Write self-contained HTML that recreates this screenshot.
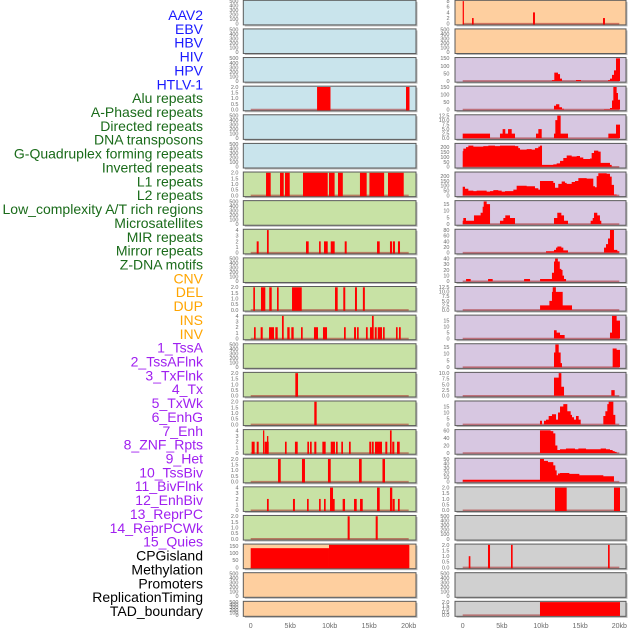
<!DOCTYPE html>
<html><head><meta charset="utf-8">
<style>
html,body{margin:0;padding:0;background:#fff;}
svg{display:block;font-family:"Liberation Sans",sans-serif;}
</style></head>
<body>
<svg id="chart" width="630" height="630" viewBox="0 0 630 630" xmlns="http://www.w3.org/2000/svg">
<g id="labels"></g>
<g id="panels"></g>
</svg>
<script>
const labelNames=["AAV2","EBV","HBV","HIV","HPV","HTLV-1","Alu repeats","A-Phased repeats","Directed repeats","DNA transposons","G-Quadruplex forming repeats","Inverted repeats","L1 repeats","L2 repeats","Low_complexity A/T rich regions","Microsatellites","MIR repeats","Mirror repeats","Z-DNA motifs","CNV","DEL","DUP","INS","INV","1_TssA","2_TssAFlnk","3_TxFlnk","4_Tx","5_TxWk","6_EnhG","7_Enh","8_ZNF_Rpts","9_Het","10_TssBiv","11_BivFlnk","12_EnhBiv","13_ReprPC","14_ReprPCWk","15_Quies","CPGisland","Methylation","Promoters","ReplicationTiming","TAD_boundary"];
const labelGroups=["v","v","v","v","v","v","r","r","r","r","r","r","r","r","r","r","r","r","r","s","s","s","s","s","c","c","c","c","c","c","c","c","c","c","c","c","c","c","c","o","o","o","o","o"];
const xTickVals=[0,5,10,15,20];
const xTickLabels=["0","5kb","10kb","15kb","20kb"];

// Left column data (bars: start kb, end kb, value)
const leftBg=["b","b","b","b","b","b","g","g","g","g","g","g","g","g","g","g","g","g","g","o","o","o"];
const leftMax=[500,500,500,2,500,500,2,500,4,500,2,4,500,2,2,4,2,4,2,158,500,500];
const L04_s=[8.4,19.66], L04_e=[10.1,20.1], L04_v=[2,2];
const L07_s=[1.94,3.71,4.34,6.62,9.91,11.05,13.83,15.03,17.38];
const L07_e=[2.53,4.18,4.94,9.75,10.62,11.66,14.68,16.89,19.37];
const L07_v=[2,2,2,2,2,2,2,2,2];
const L09_s=[0.76,2.06,7.0,8.65,9.28,10.13,11.9,15.99,17.63,18.0,18.64];
const L09_e=[1.01,2.28,7.34,8.86,9.75,10.63,12.15,16.33,17.89,18.26,18.9];
const L09_v=[2,4,2,2,2,2,2,2,2,2,2];
const L11_s=[0.33,1.3,2.35,3.33,5.23,10.67,11.72,13.2,14.2];
const L11_e=[0.54,1.85,2.66,3.54,6.46,11.01,11.97,13.45,14.45];
const L11_v=[2,2,2,2,2,2,2,2,2];
const L12_s=[0.42,1.26,2.32,3.12,3.96,4.63,5.14,6.37,8.01,9.15,11.81,13.08,13.46,14.59,15.1,15.35,15.7,16.08,16.75,18.39,18.77];
const L12_e=[0.63,1.52,2.95,3.42,4.18,4.93,5.44,6.58,8.52,9.66,12.03,13.33,13.67,14.81,15.44,15.57,15.95,16.62,16.96,18.6,18.99];
const L12_v=[2,2,2,2,4,2,2,2,2,2,2,2,2,2,2,4,2,2,2,2,2];
const L14_s=[5.65], L14_e=[5.99], L14_v=[2];
const L15_s=[8.05], L15_e=[8.35], L15_v=[2];
const L16_s=[0.12,0.76,1.56,1.77,2.06,4.34,5.6,7.17,7.51,8.05,9.07,10.13,10.8,11.47,12.44,15.01,15.32,15.73,17.04,17.63,17.92,18.52];
const L16_e=[0.5,1.01,1.72,2.28,2.23,4.55,5.95,7.38,7.72,8.31,9.49,10.67,11.01,11.68,12.66,15.23,15.57,16.62,17.29,17.84,18.18,18.86];
const L16_v=[2,2,4,2,3,2,2,2,2,2,2,2,2,2,2,2,2,2,2,4,2,2];
const L17_s=[3.46,6.49,9.78,13.71,16.68], L17_e=[3.8,6.87,10.13,14.05,17.0], L17_v=[2,2,2,2,2];
const L18_s=[2.06,5.35,7.13,8.65,9.28,10.04,10.38,11.64,13.08,13.84,15.99,17.63,17.97,18.64];
const L18_e=[2.28,5.6,7.34,8.86,9.49,10.42,10.63,11.94,13.42,14.18,16.33,17.92,18.23,18.86];
const L18_v=[2,2,2,2,2,4,2,2,2,2,4,4,2,2];
const L19_s=[12.27,15.82], L19_e=[12.53,16.08], L19_v=[2,2];
const L20_s=[0,9.91], L20_e=[9.91,20.08], L20_v=[135,160];
const leftBars={3:[L04_s,L04_e,L04_v],6:[L07_s,L07_e,L07_v],8:[L09_s,L09_e,L09_v],10:[L11_s,L11_e,L11_v],11:[L12_s,L12_e,L12_v],13:[L14_s,L14_e,L14_v],14:[L15_s,L15_e,L15_v],15:[L16_s,L16_e,L16_v],16:[L17_s,L17_e,L17_v],17:[L18_s,L18_e,L18_v],18:[L19_s,L19_e,L19_v],19:[L20_s,L20_e,L20_v]};

// Right column data
const rightBg=["o","o","p","p","p","p","p","p","p","p","p","p","p","p","p","p","p","y","y","y","y","y"];
const rightMax=[8,500,150,150,12.5,230,235,17,80,40,12.5,19,17,10,19,60,50,2,500,2,500,2];
const R01_s=[0,1.19,8.98,17.92], R01_e=[0.13,1.4,9.23,18.17], R01_v=[8,2,4,2];
const R18_s=[11.79,19.32], R18_e=[13.28,20.09], R18_v=[2,2];
const R20_s=[0.77,3.23,6.17,18.56], R20_e=[0.98,3.49,6.38,18.77], R20_v=[1,2,2,2];
const R22_s=[9.87], R22_e=[20.09], R22_v=[2];
const R03_x=[11.4,11.7,12.17,12.43,12.68,14.47,15.11,18.56,18.81,19.07,19.32,19.58,20.09];
const R03_y=[5,55,45,15,0,6,0,5,15,40,70,150,0];
const R04_x=[11.66,11.92,12.34,12.68,12.94,18.05,18.81,19.07,19.24,19.66,19.83,20.09];
const R04_y=[25,35,15,5,0,3,10,60,150,110,65,0];
const R05_x=[0,3.49,4.76,5.1,5.44,5.79,6.26,6.68,9.36,9.66,10.09,11.66,11.83,12.08,12.51,13.45,18.6,19.58,20.09];
const R05_y=[2.5,0,2.5,5,2.5,5,2.5,0,2.5,5,0,2.5,10,12.5,2.5,0,2.5,7.5,0];
const R06_x=[0,0.08,0.42,0.72,1.36,2.63,3.27,4.12,4.76,6.68,7.1,7.32,8.17,8.81,9.23,9.66,9.87,10.13,11.57,12.0,12.43,12.85,13.28,13.92,14.56,14.98,15.4,16.26,16.47,16.77,17.32,17.62,18.81,19.03];
const R06_y=[160,185,200,215,205,210,215,210,215,210,190,175,180,175,190,205,215,20,25,35,60,90,115,105,110,95,80,85,140,165,155,40,20,0];
const R07_x=[0,0.29,0.72,1.36,1.78,2.63,3.06,3.49,3.91,4.55,4.98,5.4,6.47,6.89,8.17,9.23,9.66,9.87,11.57,11.79,12.21,12.64,13.06,13.28,13.92,14.34,14.77,15.83,16.68,16.9,17.11,17.32,18.39,18.81,19.03,19.32,19.66];
const R07_y=[90,70,50,45,50,50,40,45,55,50,40,45,60,100,95,75,60,150,130,80,120,145,130,120,140,150,180,175,95,85,200,230,225,195,110,10,0];
const R08_x=[0,0.08,0.42,1.44,2.29,2.55,2.68,3.06,3.49,4.76,5.19,5.44,6.04,6.68,11.66,12.08,12.6,12.94,13.45,16.34,16.6,16.77,17.19,17.53,17.7];
const R08_y=[2.5,4.5,2.5,6.5,8.5,13,17,15,0,2.5,4.5,6.5,4.5,0,4.5,8.5,6.5,2.5,0,2.5,4.5,8.5,6.5,2.5,0];
const R09_x=[10.64,11.66,11.92,12.09,12.6,12.85,13.45,18.05,18.3,18.56,18.81,19.32,19.75,20.0];
const R09_y=[5,10,18,22,18,8,0,18,30,50,80,10,5,0];
const R10_x=[0.43,1.02,3.24,3.83,7.84,8.6,9.88,11.4,11.66,11.8,12.15,12.4,12.6,12.75,12.94,13.2];
const R10_y=[4,0,4,0,4,0,4,15,35,42,35,22,20,10,4,0];
const R11_x=[9.88,11.07,11.4,11.5,11.9,12.77,13.96];
const R11_y=[2.5,5,10,12.5,10,2.5,0];
const R12_x=[11.66,12.0,12.43,13.02,18.81,19.07,19.66,20.09];
const R12_y=[7,5,3,0,5,19,15,0];
const R13_x=[11.66,11.83,12.26,12.51,12.68,19.15,19.66,20.09];
const R13_y=[11,17,11,3,0,14,13,0];
const R14_x=[11.66,12.26,12.6,12.94,18.98,19.41];
const R14_y=[8,10,4,0,2.5,0];
const R15_x=[9.87,10.13,10.38,10.64,10.98,11.4,11.92,12.17,12.43,12.85,13.36,13.79,13.96,14.21,14.47,14.81,15.07,17.96,18.22,18.47,18.64,19.24,19.49];
const R15_y=[3,0,3,4,7,8.5,4,10,15,17,11,8,6,4,7,4,0,7,11,17,19,8,0];
const R16_x=[9.87,11.23,11.57,11.83,12.09,12.43,13.19,14.34,14.77,15.75,17.62,18.3,18.81,19.15,19.41,19.66];
const R16_y=[60,58,52,20,8,10,12,10,12,10,12,10,8,5,3,0];
const R17_x=[0,9.87,10.38,10.89,11.57,11.83,12.0,12.17,12.43,13.62,14.9,17.96,19.32];
const R17_y=[4,50,46,43,36,25,14,18,19,17,14,12,0];
const rightBars={0:[R01_s,R01_e,R01_v],17:[R18_s,R18_e,R18_v],19:[R20_s,R20_e,R20_v],21:[R22_s,R22_e,R22_v]};
const rightAreas={2:[R03_x,R03_y],3:[R04_x,R04_y],4:[R05_x,R05_y],5:[R06_x,R06_y],6:[R07_x,R07_y],7:[R08_x,R08_y],8:[R09_x,R09_y],9:[R10_x,R10_y],10:[R11_x,R11_y],11:[R12_x,R12_y],12:[R13_x,R13_y],13:[R14_x,R14_y],14:[R15_x,R15_y],15:[R16_x,R16_y],16:[R17_x,R17_y]};

const NS="http://www.w3.org/2000/svg";
const svg=document.getElementById('chart');
const gl=document.getElementById('labels');
const gp=document.getElementById('panels');
function mk(tag,attrs,parent){const e=document.createElementNS(NS,tag);for(const k in attrs)e.setAttribute(k,attrs[k]);parent.appendChild(e);return e;}
const groupColor={v:"#1a1aff",r:"#1a6b1a",s:"#ffa500",c:"#a020f0",o:"#000000"};
const bgColor={b:"#c9e4ec",g:"#c8e2a5",o:"#fecf9f",p:"#d7c7e1",y:"#d0d0d0"};

labelNames.forEach((n,i)=>{
  const t=mk('text',{x:203,y:15+i*13.86+5,'text-anchor':'end','font-size':'14',fill:groupColor[labelGroups[i]]},gl);
  t.textContent=n;
  
  
});

const cols={left:{x0:243.3,x1:416,z:250.7,k:7.9,tx:238.5},right:{x0:455,x1:626,z:462.7,k:7.83,tx:449.5}};
function rowTop(i){return 0.3+i*28.62;}
function rowH(i){return i===21?15:24.6;}
function xs(col,kb){return col.z+kb*col.k;}
function ticksFor(max){
  if(max===500)return [0,100,200,300,400,500];
  if(max===2)return [0,0.5,1,1.5,2];
  if(max===4)return [0,1,2,3,4];
  if(max===8)return [0,2,4,6,8];
  if(max===150||max===158)return [0,50,100,150];
  if(max===12.5)return [0,2.5,5,7.5,10,12.5];
  if(max===230||max===235)return [0,50,100,150,200];
  if(max===17||max===19)return [0,5,10,15];
  if(max===80)return [0,20,40,60,80];
  if(max===40)return [0,10,20,30,40];
  if(max===10)return [0,2.5,5,7.5,10];
  if(max===60)return [0,20,40,60];
  if(max===50)return [0,10,20,30,40,50];
  return [0,max];
}
function fmt(v,max){ if(max===2||max===12.5||max===10) return v.toFixed(1); return String(v);}

function drawPanel(side,i,bg,max,bars,area){
  const col=cols[side];
  const top=rowTop(i),h=rowH(i),bot=top+h;
  const g=mk('g',{},gp);
  
  
  mk('rect',{x:col.x0+1.5,y:top+1.5,width:col.x1-col.x0,height:h,fill:'#b8b8b8'},g);
  const r=mk('rect',{x:col.x0,y:top,width:col.x1-col.x0,height:h,fill:bgColor[bg],stroke:'#5a5a5a','stroke-width':1},g);
  
  
  const y0=bot-1.2, ys=v=>y0-Math.min(v,max)/max*(h-2);
  ticksFor(max).forEach(t=>{
    const tt=mk('text',{x:col.tx,y:ys(t)+1.9,'text-anchor':'end','font-size':'5.5',fill:'#6a6a6a'},g);
    tt.textContent=fmt(t,max);
    
    
  });
  if(max!==500){
    const bl=mk('line',{x1:xs(col,0),x2:xs(col,20),y1:y0,y2:y0,stroke:'rgba(170,40,40,0.55)','stroke-width':1.6},g);
    
    
  }
  if(bars){
    const [s,e,v]=bars;
    for(let j=0;j<s.length;j++){
      const x=xs(col,s[j]),w=Math.max(xs(col,e[j])-x,1.2);
      const b=mk('rect',{x:x,y:ys(v[j]),width:w,height:y0-ys(v[j])+0.8,fill:'#ff0000'},g);
      
      
    }
  }
  if(area){
    const [ax,ay]=area;
    let d='M'+xs(col,ax[0])+','+y0;
    for(let j=0;j<ax.length;j++){
      const x=xs(col,ax[j]);
      if(j>0)d+=' L'+x+','+ys(ay[j-1]);
      d+=' L'+x+','+ys(ay[j]);
    }
    d+=' L'+xs(col,ax[ax.length-1])+','+y0+' Z';
    const p=mk('path',{d:d,fill:'#ff0000'},g);
    
    
  }
}
for(let i=0;i<22;i++){
  drawPanel('left',i,leftBg[i],leftMax[i],leftBars[i],null);
  drawPanel('right',i,rightBg[i],rightMax[i],rightBars[i],rightAreas[i]);
}
['left','right'].forEach(side=>{
  const col=cols[side];
  xTickVals.forEach((v,j)=>{
    const t=mk('text',{x:xs(col,v),y:628,'text-anchor':'middle','font-size':'7',fill:'#6a6a6a'},gp);
    t.textContent=xTickLabels[j];
    
    
  });
});
</script>
</body></html>
